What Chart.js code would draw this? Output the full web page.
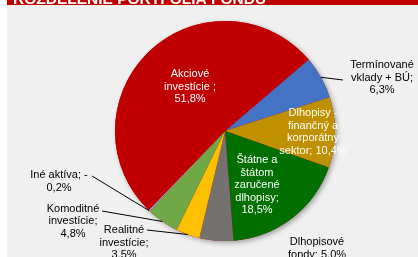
<!DOCTYPE html>
<html>
<head>
<meta charset="utf-8">
<script src="https://cdn.jsdelivr.net/npm/chart.js@4"></script>
<style>
html,body{margin:0;padding:0;background:#ffffff;}
canvas{display:block;}
</style>
</head>
<body>
<canvas id="c" width="418" height="257"></canvas>
<script>
// ---- data ----
const title = "ROZDELENIE PORTFÓLIA FONDU";
const categories = [
  "Termínované vklady + BÚ",
  "Dlhopisy - finančný a korporátny sektor",
  "Štátne a štátom zaručené dlhopisy",
  "Dlhopisové fondy",
  "Realitné investície",
  "Komoditné investície",
  "Iné aktíva; -",
  "Akciové investície"
];
const values = [6.3, 10.4, 18.5, 5.0, 3.5, 4.8, 0.2, 51.8];
const valueLabels = ["6,3%", "10,4%", "18,5%", "5,0%", "3,5%", "4,8%", "0,2%", "51,8%"];
const labelLines = [
  ["Termínované", "vklady + BÚ;", "6,3%"],
  ["Dlhopisy -", "finančný a", "korporátny", "sektor; 10,4%"],
  ["Štátne a", "štátom", "zaručené", "dlhopisy;", "18,5%"],
  ["Dlhopisové", "fondy; 5,0%"],
  ["Realitné", "investície;", "3,5%"],
  ["Komoditné", "investície;", "4,8%"],
  ["Iné aktíva; -", "0,2%"],
  ["Akciové", "investície ;", "51,8%"]
];

// ---- styles / layout ----
const colors = ["#4472C4", "#BF9000", "#006F00", "#767171", "#FFC000", "#70A845", "#8FAADC", "#C00000"];
// label anchor (x center, y of first line), colour, leader-line start (or null)
const labelLayout = [
  {x: 382, y: 65, color: "#000", leader: [343, 80]},
  {x: 313, y: 113, color: "#fff", leader: null},
  {x: 257, y: 160, color: "#fff", leader: null},
  {x: 317, y: 242, color: "#000", leader: null},
  {x: 124, y: 230, color: "#000", leader: [147, 230]},
  {x: 73, y: 208.5, color: "#000", leader: [102, 211]},
  {x: 59, y: 175, color: "#000", leader: [92, 176]},
  {x: 190, y: 74, color: "#fff", leader: null}
];
const lineH = 12.6;

const bgPlugin = {
  id: 'bg',
  beforeDraw(chart) {
    const ctx = chart.ctx;
    ctx.save();
    ctx.fillStyle = '#ffffff';
    ctx.fillRect(0, 0, chart.width, chart.height);
    ctx.fillStyle = '#f0f0f0';
    ctx.fillRect(7, 0, chart.width - 7, chart.height);
    ctx.fillStyle = '#C00000';
    ctx.fillRect(7, 0, chart.width - 7, 5);
    ctx.fillStyle = '#ffffff';
    ctx.font = 'bold 15.5px "Liberation Sans", Arial, sans-serif';
    ctx.textBaseline = 'alphabetic';
    ctx.textAlign = 'left';
    ctx.fillText(title, 13, 4);
    ctx.restore();
  },
  beforeDatasetsDraw(chart) {
    const arc = chart.getDatasetMeta(0).data[0];
    if (!arc) return;
    const ctx = chart.ctx;
    ctx.save();
    ctx.shadowColor = 'rgba(0,0,0,0.35)';
    ctx.shadowBlur = 5;
    ctx.shadowOffsetX = 2;
    ctx.shadowOffsetY = 2;
    ctx.fillStyle = '#C00000';
    ctx.beginPath();
    ctx.arc(arc.x, arc.y, arc.outerRadius, 0, Math.PI * 2);
    ctx.fill();
    ctx.restore();
  },
  afterDatasetsDraw(chart) {
    const ctx = chart.ctx;
    const meta = chart.getDatasetMeta(0);
    ctx.save();
    ctx.font = '11px "Liberation Sans", Arial, sans-serif';
    ctx.textAlign = 'center';
    ctx.textBaseline = 'middle';
    meta.data.forEach((arc, i) => {
      const L = labelLayout[i];
      if (L.leader) {
        const mid = (arc.startAngle + arc.endAngle) / 2;
        const ex = arc.x + Math.cos(mid) * arc.outerRadius;
        const ey = arc.y + Math.sin(mid) * arc.outerRadius;
        ctx.strokeStyle = '#000';
        ctx.lineWidth = 1;
        ctx.beginPath();
        ctx.moveTo(L.leader[0], L.leader[1]);
        ctx.lineTo(ex, ey);
        ctx.stroke();
      }
      ctx.fillStyle = L.color;
      labelLines[i].forEach((t, k) => ctx.fillText(t, L.x, L.y + k * lineH));
    });
    ctx.restore();
  }
};

new Chart(document.getElementById('c'), {
  type: 'pie',
  data: {
    labels: categories,
    datasets: [{
      data: values,
      backgroundColor: colors,
      borderWidth: 0
    }]
  },
  options: {
    responsive: false,
    animation: false,
    rotation: 49.5,
    layout: {padding: {left: 115, right: 83, top: 21, bottom: 16}},
    plugins: {legend: {display: false}, tooltip: {enabled: false}}
  },
  plugins: [bgPlugin]
});
</script>
</body>
</html>
